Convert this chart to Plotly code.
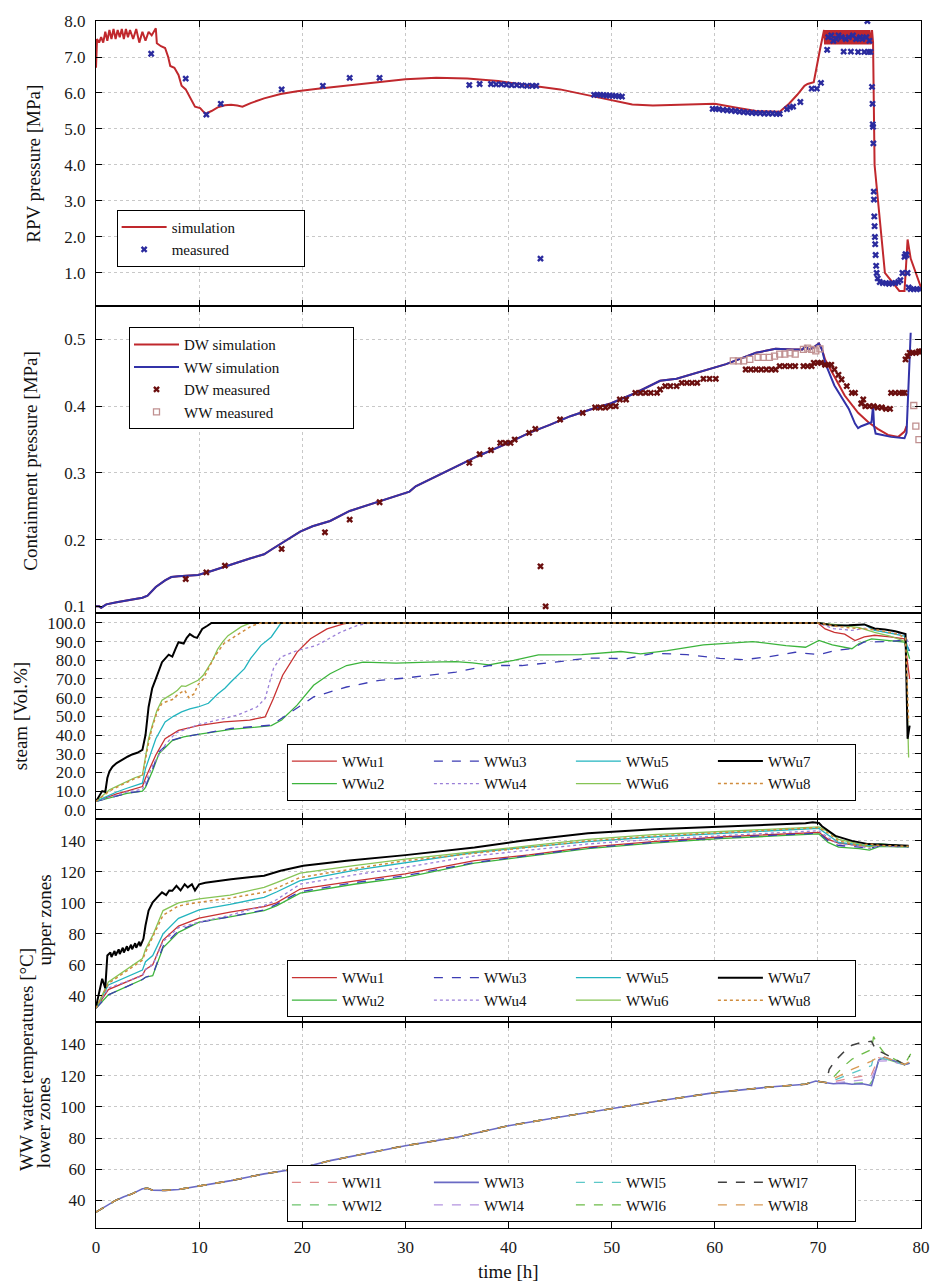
import plotly.graph_objects as go
from plotly.subplots import make_subplots

# ---------------- Panel 1: RPV pressure ----------------
rpv_sim_t = [0, 0.1, 0.3, 0.5, 0.7, 0.9, 1.1, 1.3, 1.5, 1.7, 1.9, 2.1, 2.3, 2.5, 2.7, 2.9, 3.1, 3.3,
             3.6, 3.9, 4.2, 4.5, 4.8, 5.1, 5.4, 5.8, 5.9, 6.3, 6.7, 7.0, 7.2, 7.6, 8.0, 8.3, 8.7, 9.2,
             9.6, 10.1, 10.6, 11.2, 11.8, 12.5, 13.1, 13.7, 14.2, 15.0, 16.3, 17.9, 19.5, 21.5, 24,
             27, 30, 33, 36, 39, 42, 45, 48, 50, 52, 54, 56, 58, 60, 62, 64, 66.3, 67.2, 68.0, 68.7,
             69.0, 69.6, 70.2, 70.6, 70.7, 70.8, 70.9, 71.0, 71.1, 71.2, 71.3, 71.4, 71.5, 71.6, 71.7,
             71.8, 71.9, 72.0, 72.1, 72.2, 72.3, 72.4, 72.5, 72.6, 72.7, 72.8, 72.9, 73.0, 73.1, 73.2,
             73.3, 73.4, 73.5, 73.6, 73.7, 73.8, 73.9, 74.0, 74.1, 74.2, 74.3, 74.4, 74.5, 74.6, 74.7,
             74.8, 74.9, 75.0, 75.1, 75.25, 75.35, 75.5, 76.5, 77.9, 78.2, 78.4, 78.55, 78.7, 79.0, 80.0]
rpv_sim_p = [6.7, 7.5, 7.4, 7.55, 7.4, 7.7, 7.45, 7.75, 7.5, 7.78, 7.5, 7.75, 7.55, 7.78, 7.5, 7.78,
             7.55, 7.75, 7.5, 7.78, 7.4, 7.7, 7.45, 7.7, 7.6, 7.8, 7.38, 7.3, 7.25, 7.0, 6.75, 6.7,
             6.5, 6.2, 6.1, 5.85, 5.62, 5.58, 5.42, 5.5, 5.6, 5.66, 5.67, 5.65, 5.62, 5.72, 5.85,
             5.97, 6.05, 6.12, 6.2, 6.3, 6.38, 6.42, 6.4, 6.33, 6.22, 6.1, 5.92, 5.8, 5.68, 5.65,
             5.67, 5.7, 5.7, 5.6, 5.5, 5.48, 5.7, 5.95, 6.2, 6.25, 6.3, 7.2, 7.75, 7.35, 7.75, 7.35,
             7.75, 7.35, 7.75, 7.35, 7.75, 7.35, 7.75, 7.35, 7.75, 7.35, 7.75, 7.35, 7.75, 7.35,
             7.75, 7.35, 7.75, 7.35, 7.75, 7.35, 7.75, 7.35, 7.75, 7.35, 7.75, 7.35, 7.75, 7.35,
             7.75, 7.35, 7.75, 7.35, 7.75, 7.35, 7.75, 7.35, 7.75, 7.35, 7.75, 7.35, 7.75, 7.35,
             7.75, 7.4, 4.0, 1.0, 0.5, 0.5, 0.5, 1.2, 1.93, 1.4, 0.6, 0.5, 0.5]

rpv_meas_t = [5.35, 8.7, 10.7, 12.1, 18.0, 22.0, 24.6, 27.5, 36.2, 37.2, 38.3, 38.8, 39.3, 39.8,
              40.3, 40.8, 41.3, 41.8, 42.3, 42.7, 43.1, 48.3, 48.6, 48.9, 49.2, 49.5, 49.8, 50.1,
              50.4, 50.7, 51.0, 59.8, 60.1, 60.4, 60.8, 61.2, 61.6, 62.0, 62.4, 62.8, 63.2, 63.6,
              64.0, 64.4, 64.8, 65.2, 65.6, 66.0, 66.3, 67.0, 67.3, 67.6, 68.3, 69.4, 69.9, 70.3,
              70.9, 71.0, 71.3, 71.5, 71.8, 72.0, 72.3, 72.5, 72.7, 73.0, 73.2, 73.4, 73.7, 73.9,
              74.1, 74.3, 74.5, 74.7, 74.8, 74.9, 75.0, 75.1, 75.25, 75.3, 75.32, 75.35, 75.38,
              75.42, 75.44, 75.47, 75.5, 75.53, 75.56, 75.6, 75.65, 75.7, 75.8, 76.0, 76.3, 76.6,
              76.9, 77.2, 77.5, 77.8, 78.0, 78.2, 78.4, 78.5, 78.6, 78.7, 78.8, 79.0, 79.3, 79.6,
              79.9]
rpv_meas_p = [7.09, 6.4, 5.4, 5.7, 6.1, 6.2, 6.42, 6.42, 6.22, 6.25, 6.25, 6.24, 6.24, 6.23, 6.22,
              6.22, 6.21, 6.2, 6.2, 6.2, 1.4, 5.95, 5.95, 5.95, 5.94, 5.93, 5.93, 5.92, 5.92, 5.91,
              5.9, 5.56, 5.56, 5.55, 5.53, 5.52, 5.51, 5.5, 5.48, 5.47, 5.46, 5.45, 5.44, 5.44,
              5.43, 5.43, 5.43, 5.42, 5.42, 5.55, 5.6, 5.62, 5.75, 6.12, 6.12, 6.28, 7.2, 7.55,
              7.6, 7.45, 7.5, 7.6, 7.55, 7.15, 7.5, 7.55, 7.15, 7.6, 7.5, 7.14, 7.55, 7.5, 7.14,
              7.55, 8.0, 7.14, 7.45, 7.14, 6.17, 5.7, 5.13, 5.06, 4.6, 3.26, 3.04, 2.57, 2.3, 2.0,
              1.8, 1.5, 1.2, 1.0, 0.85, 0.75, 0.72, 0.72, 0.7, 0.72, 0.72, 0.75, 0.8, 1.0, 1.45,
              1.52, 1.5, 1.0, 0.6, 0.55, 0.55, 0.55, 0.55]

# ---------------- Panel 2: containment pressure ----------------
cont_base_t = [0, 0.3, 0.5, 1, 2, 3, 4.5, 5.0, 5.8, 6.7, 7.3, 8.0, 9.0, 9.9, 11.2, 12.5, 13.8, 15.0,
               16.3, 17.1, 17.9, 18.8, 19.8, 21.0, 22.7, 24.6, 26.0, 27.5, 29.0, 30.4, 31.0, 33,
               35, 37, 40, 42, 44, 46, 48.3, 49.9, 52.2, 54.7, 56.3, 57.9, 61.1, 64, 65.9, 67.5,
               68.5, 68.8, 69.1, 69.5, 70.1, 70.4]
cont_base_p = [0.1, 0.1, 0.098, 0.103, 0.106, 0.109, 0.113, 0.116, 0.129, 0.139, 0.144, 0.145,
               0.146, 0.147, 0.153, 0.16, 0.166, 0.172, 0.178, 0.186, 0.194, 0.203, 0.212, 0.22,
               0.228, 0.243, 0.25, 0.258, 0.265, 0.272, 0.28, 0.295, 0.31, 0.325, 0.345, 0.36,
               0.372, 0.385, 0.397, 0.404, 0.419, 0.438, 0.441, 0.448, 0.463, 0.48, 0.486, 0.485,
               0.485, 0.49, 0.485, 0.487, 0.494, 0.485]
ww_sim_tail_t = [70.7, 71.6, 73.0, 73.6, 73.9, 74.2, 75.2, 75.35, 75.45, 75.6, 77.1, 78.4, 78.6, 79.0]
ww_sim_tail_p = [0.465, 0.431, 0.396, 0.374, 0.367, 0.37, 0.376, 0.401, 0.37, 0.359, 0.354, 0.352,
                 0.36, 0.51]
dw_sim_tail_t = [70.7, 71.3, 72.6, 73.9, 74.9, 75.8, 76.8, 77.8, 78.4, 78.6]
dw_sim_tail_p = [0.47, 0.453, 0.416, 0.39, 0.376, 0.366, 0.357, 0.354, 0.362, 0.37]

dw_meas_t = [8.7, 10.7, 12.5, 18.0, 22.2, 24.6, 27.5, 36.2, 37.2, 38.3, 39.2, 39.7, 40.2, 40.6,
             42.0, 42.6, 43.1, 43.6, 45.0, 47.2, 48.4, 48.9, 49.4, 49.9, 50.4, 50.8, 51.4, 52.3,
             52.8, 53.3, 53.8, 54.4, 54.7, 55.2, 55.7, 56.3, 56.8, 57.3, 57.8, 58.3, 58.9, 59.5,
             60.1, 63.0, 63.5, 64.0, 64.5, 65.0, 65.5, 65.9, 66.3, 66.8, 67.3, 67.8, 68.6, 69.0,
             69.4, 69.6, 70.0, 70.3, 70.7, 71.0, 71.3, 71.6, 72.0, 72.3, 72.8, 73.3, 73.6, 74.2,
             74.4, 74.6, 75.0, 75.4, 75.8, 76.2, 76.6, 77.0, 77.1, 77.5, 77.9, 78.2, 78.4, 78.5,
             78.7, 78.9, 79.2, 79.5, 79.8, 80.0]
dw_meas_p = [0.141, 0.151, 0.161, 0.186, 0.211, 0.23, 0.256, 0.315, 0.328, 0.334, 0.345, 0.345,
             0.345, 0.35, 0.36, 0.366, 0.16, 0.10, 0.38, 0.39, 0.398, 0.398, 0.398, 0.4, 0.4,
             0.41, 0.41, 0.42, 0.42, 0.42, 0.42, 0.42, 0.425, 0.43, 0.43, 0.43, 0.435, 0.435,
             0.435, 0.435, 0.441, 0.441, 0.441, 0.455, 0.455, 0.455, 0.455, 0.455, 0.455, 0.455,
             0.46, 0.46, 0.46, 0.46, 0.46, 0.46, 0.46, 0.465, 0.465, 0.465, 0.462, 0.462, 0.462,
             0.455, 0.447, 0.44, 0.43, 0.42, 0.42, 0.404, 0.41, 0.4, 0.4, 0.4, 0.398, 0.398,
             0.396, 0.396, 0.42, 0.42, 0.42, 0.42, 0.42, 0.47, 0.475, 0.48, 0.48, 0.48, 0.482,
             0.482]
ww_meas_t = [61.8, 62.3, 62.8, 63.4, 64.2, 64.7, 65.3, 65.8, 66.3, 66.8, 67.3, 67.8, 68.6, 69.0,
             69.4, 69.8, 70.2, 79.3, 79.5, 79.8]
ww_meas_p = [0.468, 0.468, 0.468, 0.47, 0.473, 0.473, 0.473, 0.475, 0.478, 0.478, 0.48, 0.478,
             0.485, 0.487, 0.485, 0.483, 0.486, 0.401, 0.37, 0.35]

# ---------------- Panel 3: steam fraction upper zones ----------------
steam_t = {
    "WWu1": [0, 1, 2, 3, 4.5, 4.8, 5.3, 5.8, 6.7, 8.0, 9.9, 12.4, 14.9, 16.4, 17.2, 18.1, 19.5,
             20.8, 22.4, 24.0, 24.6, 70, 70.7, 71.6, 72.6, 73.6, 74.5, 75.5, 77, 78.4, 78.9],
    "WWu2": [0, 1, 2, 3, 4.5, 4.8, 5.5, 6.1, 7.4, 8.5, 9.9, 13.1, 17.0, 18.0, 19.5, 21.1, 22.7,
             24.3, 25.9, 29.1, 32.3, 34.9, 36.5, 38.1, 40.5, 42.9, 47.1, 50.9, 52.8, 55.4, 58.9,
             63.7, 66.9, 68.8, 70.1, 71.4, 73.3, 74.0, 75.2, 78.4, 78.9],
    "WWu3": [0, 1, 2, 3, 4.5, 4.8, 5.5, 6.1, 7.4, 8.5, 9.9, 13.1, 17.0, 18.9, 21.1, 24.3, 27.5,
             30.0, 34.9, 38.1, 41.3, 44.5, 47.7, 51.5, 54.1, 57.3, 60.5, 62.8, 65.3, 67.8, 70.1,
             71.7, 73.3, 74.5, 76.5, 78.4, 78.9],
    "WWu4": [0, 1, 2, 3, 4.5, 5.5, 6.7, 7.7, 9.9, 13.7, 15.6, 16.4, 17.2, 17.9, 19.5, 21.4, 23.7,
             25.3, 26.5, 70, 71.5, 73.3, 75, 76.5, 78.4, 78.9],
    "WWu5": [0, 1, 2, 3, 4.5, 4.8, 5.3, 5.8, 6.7, 7.5, 8.3, 9.1, 9.9, 10.9, 11.8, 12.5, 13.1,
             13.8, 14.4, 15.0, 16.0, 17.0, 17.9, 18.3, 70, 71.5, 73, 74.5, 75.5, 77, 78.4, 78.8],
    "WWu6": [0, 0.5, 1.3, 2.0, 2.9, 3.7, 4.5, 4.8, 5.1, 5.45, 5.9, 6.4, 7.0, 7.4, 7.9, 8.3, 8.7,
             9.1, 9.5, 9.9, 10.4, 10.9, 11.3, 11.8, 12.3, 12.8, 13.5, 14.1, 15.0, 70, 72, 74,
             75.5, 77, 78.5, 78.8],
    "WWu7": [0, 0.3, 0.6, 0.9, 1.1, 1.3, 1.6, 2.0, 2.3, 2.7, 3.1, 3.5, 4.0, 4.5, 4.8, 5.1, 5.45,
             5.8, 6.1, 6.4, 7.05, 7.4, 7.7, 8.0, 8.5, 8.8, 9.1, 9.5, 9.8, 10.3, 10.8, 11.2, 70.1,
             71.5, 73, 74.5, 75.5, 76.5, 77.5, 78.5, 78.7, 78.9],
    "WWu8": [0, 0.5, 1.3, 2.0, 2.9, 3.7, 4.5, 4.8, 5.1, 5.45, 5.9, 6.4, 7.0, 7.4, 8.0, 8.6, 9.0,
             9.5, 9.9, 10.4, 10.9, 11.5, 12.4, 13.2, 14.1, 15.1, 16.0, 70, 72, 74, 76, 77.7,
             78.5, 78.8],
}
steam_v = {
    "WWu1": [4.5, 6.5, 8.5, 10, 12.4, 17, 23, 29.3, 38, 42.5, 45, 47, 48, 49.7, 59.5, 72, 84.4,
             91.5, 96.8, 99.5, 100, 100, 96.8, 95, 94, 90.6, 92.5, 93.4, 92.5, 91.5, 70],
    "WWu2": [4.5, 6, 7.5, 8.8, 10, 12, 21, 30, 37, 39, 40.3, 43, 45, 48, 56, 66.6, 72.8, 77.2,
             79, 78.5, 79, 79.3, 78.6, 77.5, 80, 82.9, 83, 84.7, 83.4, 85.2, 88.2, 90, 87.9, 87,
             90.6, 88.2, 86.2, 89, 91.5, 89.8, 80.8],
    "WWu3": [4.5, 6, 7.5, 8.8, 10, 12.4, 22, 31, 37.3, 39, 40.3, 43.5, 45.3, 52.4, 60.4, 65.7,
             69.3, 70.5, 73.7, 77.2, 77.2, 79, 81.2, 80.9, 83.8, 83, 81, 80.3, 82, 84.3, 83,
             85.3, 86.2, 89.8, 90, 90.7, 85],
    "WWu4": [4.5, 6.2, 8, 9.5, 11, 23.8, 34.6, 41, 45.5, 50.6, 55, 59.5, 75.5, 81.7, 85.2, 88,
             95, 98.6, 100, 100, 97, 96, 97.5, 95, 93.8, 88],
    "WWu5": [4.5, 7, 9.5, 11.5, 14.2, 22, 30, 38, 47, 50, 52.4, 54, 55, 57, 62, 65, 68.5, 72,
             75.5, 81, 88, 92.5, 99.6, 100, 100, 99, 98.5, 99.2, 96, 94.5, 93, 85],
    "WWu6": [4.5, 7, 10.7, 12.5, 15, 17, 18.6, 28, 38, 45, 53, 58.6, 60.5, 62, 64, 66.3, 66, 67,
             68, 69.3, 72, 76.4, 80, 86, 90, 93.2, 96, 98, 100, 100, 99, 97.5, 95, 93, 90, 28],
    "WWu7": [4.5, 7, 10, 9.5, 17, 20.5, 23, 25, 26, 27.5, 28.5, 29.6, 30.5, 32, 40, 55, 65, 70,
             75, 79, 83, 82, 86, 89.7, 89, 92, 94, 92.5, 92, 96.8, 98.5, 100, 100, 98.6, 98.8,
             99.2, 97, 96.5, 95.5, 94, 38, 45],
    "WWu8": [4.5, 6.5, 10, 12, 14.5, 16.5, 18, 27, 36, 44, 52, 57, 58, 59, 62, 64, 60, 62, 67,
             70, 75.5, 82, 89, 92, 95, 98.4, 100, 100, 98, 97, 96, 94, 92, 47],
}

# ---------------- Panel 4: upper-zone water temperatures ----------------
tu_black_t = [0, 0.3, 0.6, 0.9, 1.1, 1.4, 1.5, 1.8, 1.9, 2.2, 2.3, 2.6, 2.7, 3.0, 3.1, 3.4, 3.5,
              3.8, 3.9, 4.2, 4.3, 4.6, 4.8, 5.1, 5.5, 6.0, 6.4, 6.8, 7.1, 7.4, 7.8, 8.2, 8.6, 8.9,
              9.3, 9.6, 10.0, 10.6, 13.1, 16.3, 17.9, 20.1, 24.3, 30, 36.7, 41.3, 47.7, 54.1,
              60.5, 66.9, 68.8, 69.5, 70.1, 70.4, 71.7, 73.3, 74.9, 76.5, 78.8]
tu_black_v = [32.9, 42.6, 51, 45, 66, 68, 65, 69, 66, 70, 67, 71, 68, 72, 69, 73, 70, 74, 71, 75,
              72, 76.8, 85.4, 95, 100.4, 104, 106.8, 105, 108, 107.8, 111, 108, 112, 110, 112,
              108, 112, 113, 115.2, 117.5, 120.7, 124, 127.2, 130.8, 135.7, 140, 144.9, 147.5,
              149.2, 151.1, 151.3, 152, 151.5, 149.4, 143.2, 140, 137.9, 137.5, 136.8]
tu_t = [0, 1.2, 4.5, 4.8, 5.5, 6.5, 8, 10, 13, 16.3, 17.5, 19.8, 25, 30, 36.7, 42, 47.7, 54,
        60.5, 66.9, 70.1, 71, 72, 74, 75, 76, 78.8]
tu_v = {
    "WWu1": [32, 44, 53.3, 57, 60, 76, 85, 90.1, 94, 97.6, 100, 108.9, 114, 118.7, 127.2, 131,
             136, 139.5, 142.5, 144.5, 145.5, 141, 138.5, 137, 136.5, 137.5, 136.5],
    "WWu2": [32, 40.6, 50.5, 52, 53, 71, 81, 87.5, 91, 95, 98, 106.3, 112, 116.5, 125.6, 130,
             135, 138.5, 141.5, 143.5, 144.5, 139, 136, 135, 134, 136.5, 136],
    "WWu3": [32, 40.6, 50.5, 52, 53.5, 72, 82, 87.5, 91, 95.4, 99, 107.2, 113, 117.5, 126,
             130.5, 135.5, 139, 142, 144, 145, 140, 137, 136, 135, 137, 136],
    "WWu4": [32, 45, 53, 57, 60, 75, 84, 87.5, 92, 98.2, 102, 112.1, 118, 123, 130.3, 134, 138,
             141, 143.5, 145.5, 146.5, 142, 138, 137, 135, 137, 136],
    "WWu5": [32, 47, 56.6, 62, 66, 80, 90, 95.4, 99, 103.6, 107, 114.3, 121, 126.1, 132.5, 136,
             139.5, 142.5, 145, 147, 148, 144, 139, 137.5, 137, 138, 136.5],
    "WWu6": [32, 49, 64, 70, 79, 95, 100, 102.5, 105, 110, 113, 119.2, 124, 128.2, 133, 137,
             141, 144, 146, 148, 149, 146, 141, 138, 136, 138, 136.5],
    "WWu8": [32, 48, 63, 68, 78, 92, 98, 100.4, 103, 106.8, 109.5, 116.4, 122, 127.2, 132, 136,
             140, 143, 145.5, 147.5, 148.5, 145, 140, 137, 138, 137, 136.5],
}

# ---------------- Panel 5: lower-zone water temperatures ----------------
tl_base_t = [0, 0.5, 1.0, 1.9, 2.7, 3.5, 4.5, 5.0, 5.5, 6.7, 8.0, 9.9, 13.1, 16.3, 19.8, 22.7,
             25.9, 30, 34.9, 40, 45, 49.9, 55, 60, 65.3, 68.8, 69.8, 70.8]
tl_base_v = [32.5, 34.5, 36.8, 40, 42.3, 44.2, 47.5, 47.8, 46.5, 46.4, 47, 49.1, 52.7, 57, 60.6,
             65.5, 69.7, 75.1, 80.4, 87.9, 93.5, 98.9, 104.2, 109.1, 112.7, 114.5, 116.6, 115.5]
tl_tail_t = {
    "WWl1": [71.8, 73.3, 75.2, 75.9, 76.8, 78.4, 78.9],
    "WWl2": [71.5, 72.5, 73.3, 74.3, 74.9, 75.4, 75.9, 76.5, 78.4, 78.9],
    "WWl3": [71.5, 72.5, 73.3, 74.3, 75.2, 75.9, 76.5, 78.4, 78.9],
    "WWl4": [71.8, 73.3, 75.2, 75.9, 76.8, 78.4, 78.9],
    "WWl5": [71.8, 73.3, 75.2, 75.4, 76.2, 77.3, 78.4, 78.9],
    "WWl6": [71.5, 72.5, 73.3, 74.3, 75.2, 75.4, 75.8, 76.5, 77.5, 78.4, 79.0],
    "WWl7": [71.1, 71.6, 72.1, 72.7, 73.3, 74.3, 75.2, 75.6, 76.5, 77.5, 78.4, 78.9],
    "WWl8": [71.8, 73.3, 75.2, 75.6, 76.2, 77.3, 78.4, 78.9],
}
tl_tail_v = {
    "WWl1": [116.5, 118.5, 120.8, 131.4, 130, 127, 128],
    "WWl2": [115.3, 115.5, 115, 115.3, 113, 118, 130, 131, 127, 128],
    "WWl3": [114.8, 115.2, 114.5, 114.8, 113.7, 130, 131.8, 127, 128],
    "WWl4": [115.5, 116.5, 118, 129.3, 129.5, 127, 128],
    "WWl5": [117.6, 121.5, 126.5, 132, 131, 129.5, 127, 128.5],
    "WWl6": [119, 126, 130.5, 134, 136.8, 145, 140, 134, 130.5, 127, 134],
    "WWl7": [124, 129, 132.5, 136.5, 139.5, 141.5, 142, 136.8, 134, 130.5, 127.2, 132.5],
    "WWl8": [118.7, 124, 129.3, 131, 132.5, 130, 127.2, 129],
}

x_ticks = [0, 10, 20, 30, 40, 50, 60, 70, 80]

# ---------------- styles ----------------
FONT = "Liberation Serif, Times New Roman, serif"
upper_style = {
    "WWu1": dict(color="#c83232", dash="solid", width=1.3),
    "WWu2": dict(color="#3cb43c", dash="solid", width=1.3),
    "WWu3": dict(color="#3c3cb4", dash="dash", width=1.3),
    "WWu4": dict(color="#9a7fd8", dash="dot", width=1.3),
    "WWu5": dict(color="#22b4bf", dash="solid", width=1.3),
    "WWu6": dict(color="#86c455", dash="solid", width=1.3),
    "WWu7": dict(color="#000000", dash="solid", width=2),
    "WWu8": dict(color="#d08c3c", dash="dot", width=1.5),
}
lower_style = {
    "WWl1": dict(color="#e08a8a", dash="dash", width=1.3),
    "WWl2": dict(color="#6cc46c", dash="dash", width=1.3),
    "WWl3": dict(color="#6a6ac4", dash="solid", width=1.6),
    "WWl4": dict(color="#b494e0", dash="dash", width=1.3),
    "WWl5": dict(color="#5cc8c8", dash="dash", width=1.3),
    "WWl6": dict(color="#6cbc48", dash="dash", width=1.3),
    "WWl7": dict(color="#404040", dash="dash", width=1.5),
    "WWl8": dict(color="#d89a55", dash="dash", width=1.3),
}
col_group = {"1": "c1", "2": "c1", "3": "c2", "4": "c2", "5": "c3", "6": "c3", "7": "c4", "8": "c4"}

fig = make_subplots(rows=5, cols=1, shared_xaxes=True, vertical_spacing=0)

# Panel 1
fig.add_trace(go.Scatter(x=rpv_sim_t, y=rpv_sim_p, mode="lines", name="simulation",
                         line=dict(color="#c0282d", width=2), legend="legend",
                         legendgroup="rpv"), row=1, col=1)
fig.add_trace(go.Scatter(x=rpv_meas_t, y=rpv_meas_p, mode="markers", name="measured",
                         marker=dict(symbol="x", size=6, color="#2b2b9e"), legend="legend",
                         legendgroup="rpv"), row=1, col=1)

# Panel 2
fig.add_trace(go.Scatter(x=cont_base_t + dw_sim_tail_t, y=cont_base_p + dw_sim_tail_p,
                         mode="lines", name="DW simulation",
                         line=dict(color="#c0282d", width=2), legend="legend2",
                         legendgroup="cont"), row=2, col=1)
fig.add_trace(go.Scatter(x=cont_base_t + ww_sim_tail_t, y=cont_base_p + ww_sim_tail_p,
                         mode="lines", name="WW simulation",
                         line=dict(color="#3232a8", width=2), legend="legend2",
                         legendgroup="cont"), row=2, col=1)
fig.add_trace(go.Scatter(x=dw_meas_t, y=dw_meas_p, mode="markers", name="DW measured",
                         marker=dict(symbol="x", size=6, color="#6b0f0f"), legend="legend2",
                         legendgroup="cont"), row=2, col=1)
fig.add_trace(go.Scatter(x=ww_meas_t, y=ww_meas_p, mode="markers", name="WW measured",
                         marker=dict(symbol="square-open", size=6, color="#c09090",
                                     line=dict(width=1.3)), legend="legend2",
                         legendgroup="cont"), row=2, col=1)

# Panel 3
for name in ["WWu1", "WWu2", "WWu3", "WWu4", "WWu5", "WWu6", "WWu7", "WWu8"]:
    fig.add_trace(go.Scatter(x=steam_t[name], y=steam_v[name], mode="lines", name=name,
                             line=upper_style[name], legend="legend3",
                             legendgroup="s" + col_group[name[-1]]), row=3, col=1)

# Panel 4
for name in ["WWu1", "WWu2", "WWu3", "WWu4", "WWu5", "WWu6", "WWu7", "WWu8"]:
    if name == "WWu7":
        xs, ys = tu_black_t, tu_black_v
    else:
        xs, ys = tu_t, tu_v[name]
    fig.add_trace(go.Scatter(x=xs, y=ys, mode="lines", name=name, line=upper_style[name],
                             legend="legend4", legendgroup="t" + col_group[name[-1]]),
                  row=4, col=1)

# Panel 5
for name in ["WWl1", "WWl2", "WWl3", "WWl4", "WWl5", "WWl6", "WWl7", "WWl8"]:
    fig.add_trace(go.Scatter(x=tl_base_t + tl_tail_t[name], y=tl_base_v + tl_tail_v[name],
                             mode="lines", name=name, line=lower_style[name],
                             legend="legend5", legendgroup="l" + col_group[name[-1]]),
                  row=5, col=1)

domains = [[0.7638, 1.0], [0.5095, 0.7638], [0.3391, 0.5095], [0.1704, 0.3391], [0.0, 0.1704]]
yranges = [[0.08, 8.0], [0.09, 0.55], [-4.8, 105.3], [22.9, 154.3], [22.3, 154.2]]
ytickvals = [[1, 2, 3, 4, 5, 6, 7, 8], [0.1, 0.2, 0.3, 0.4, 0.5],
             [0, 10, 20, 30, 40, 50, 60, 70, 80, 90, 100],
             [40, 60, 80, 100, 120, 140], [40, 60, 80, 100, 120, 140]]
yfmt = [".1f", ".1f", ".1f", "d", "d"]

axis_common = dict(showline=True, linecolor="black", linewidth=1, mirror="ticks",
                   ticks="inside", ticklen=6, tickcolor="black", showgrid=True,
                   gridcolor="#c8c8c8", griddash="dot", gridwidth=1, zeroline=False,
                   tickfont=dict(family=FONT, size=17, color="#1a1a1a"))
for i in range(5):
    fig.update_yaxes(row=i + 1, col=1, domain=domains[i], range=yranges[i],
                     tickvals=ytickvals[i], tickformat=yfmt[i], ticklabelstandoff=6,
                     **axis_common)
    fig.update_xaxes(row=i + 1, col=1, range=[0, 80], tickvals=x_ticks,
                     showticklabels=(i == 4), ticklabelstandoff=4, **axis_common)

leg_common = dict(bgcolor="white", bordercolor="black", borderwidth=1,
                  font=dict(family=FONT, size=15, color="#111"), itemwidth=45,
                  xanchor="left", tracegroupgap=0, orientation="h", traceorder="grouped")
fig.update_layout(
    width=942, height=1285,
    margin=dict(l=96, r=12, t=13, b=57),
    paper_bgcolor="white", plot_bgcolor="white",
    font=dict(family=FONT, size=17, color="#111"),
    showlegend=True,
    legend=dict(x=0.025, y=0.8201, yanchor="middle", entrywidth=127, **leg_common),
    legend2=dict(x=0.040, y=0.7041, yanchor="middle", entrywidth=164, **leg_common),
    legend3=dict(x=0.2314, y=0.3539, yanchor="bottom", entrywidth=82, **leg_common),
    legend4=dict(x=0.2314, y=0.1745, yanchor="bottom", entrywidth=82, **leg_common),
    legend5=dict(x=0.2314, y=0.0049, yanchor="bottom", entrywidth=82, **leg_common),
)

title_font = dict(family=FONT, size=19, color="#111")
ann = [
    ("RPV pressure [MPa]", -0.0767, 0.8815),
    ("Containment pressure [MPa]", -0.079, 0.6356),
    ("steam [Vol.%]", -0.0911, 0.4239),
    ("upper zones", -0.0624, 0.2551),
    ("WW water temperatures [°C]", -0.0851, 0.1399),
    ("lower zones", -0.0635, 0.0872),
]
for text, x, y in ann:
    fig.add_annotation(text=text, x=x, y=y, xref="paper", yref="paper", textangle=-90,
                       showarrow=False, xanchor="center", yanchor="middle", font=title_font)
fig.add_annotation(text="time [h]", x=0.5, y=-0.0358, xref="paper", yref="paper",
                   showarrow=False, xanchor="center", yanchor="middle", font=title_font)

fig.write_html("out.html", config={"displayModeBar": False},
               post_script="document.body.style.margin='0';document.body.style.overflow='hidden';")
